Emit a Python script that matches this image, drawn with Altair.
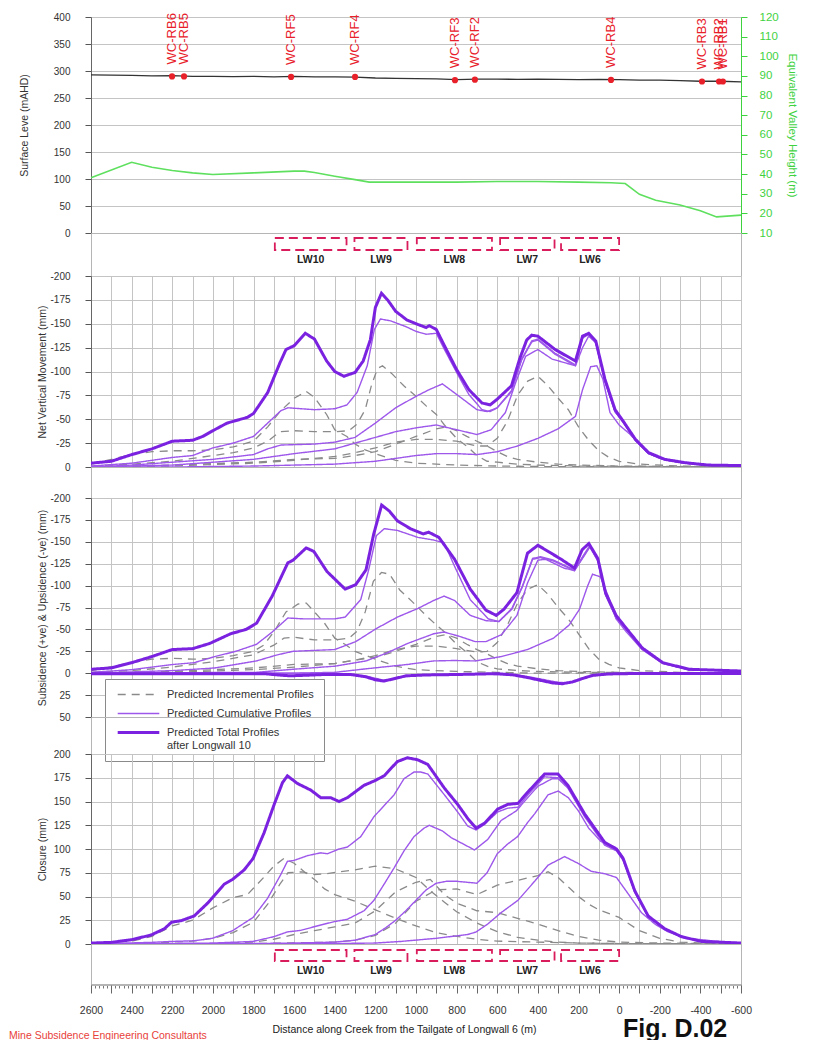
import altair as alt
import pandas as pd

FONT = "Liberation Sans"
W = 650
XDOM = [2600, -600]
GRID_X = list(range(-600, 2601, 100))
GRID = "#c4c4c4"
GREEN = "#3fd23f"
RED = "#e8202a"
CRIMSON = "#d91c5c"

SURFACE_X = [2600, 2500, 2400, 2300, 2200, 2100, 2000, 1900, 1800, 1700, 1600, 1500, 1400, 1300,
             1200, 1100, 1000, 900, 800, 700, 600, 500, 400, 300, 200, 100, 0, -100, -200, -300,
             -400, -500, -600]
SURFACE_LEVEL = [293, 292.5, 292, 291, 291.5, 290, 290, 289.5, 290, 289, 290, 289, 289, 288.5,
                 287, 286.5, 286, 285.5, 284, 285, 285, 284.5, 285, 284.5, 284, 284.5, 284, 283,
                 283, 282, 281, 281, 280]
VALLEY_X = [2600, 2400, 2300, 2200, 2100, 2000, 1800, 1600, 1550, 1500, 1400, 1300, 1230, 1000,
            800, 600, 400, 200, 40, -30, -100, -180, -300, -400, -480, -600]
VALLEY_H = [38.1, 46, 43.5, 41.8, 40.6, 39.8, 40.6, 41.5, 41.5, 40.8, 38.9, 37.2, 35.9, 35.9,
            35.9, 36.2, 36.2, 35.9, 35.6, 35.2, 29.7, 26.7, 24.3, 21.3, 18.2, 19.1]
STATION_NAMES = ["WC-RB6", "WC-RB5", "WC-RF5", "WC-RF4", "WC-RF3", "WC-RF2", "WC-RB4",
                 "WC-RB3", "WC-RB2", "WC-RB1"]
STATION_X = [2201, 2142, 1615, 1300, 808, 710, 40, -408, -492, -511]
STATION_LEVEL = [290, 290, 289, 289, 283, 284, 283.5, 280.5, 280.5, 280.5]

LW_NAMES = ["LW10", "LW9", "LW8", "LW7", "LW6"]
LW_START = [1695, 1303, 996, 586, 286]
LW_END = [1342, 1042, 626, 318, 0]

NVM_TOTAL = [(2600, -4), (2500, -6), (2400, -13), (2300, -19), (2200, -27), (2100, -28), (2050, -32),
             (2000, -38), (1930, -46), (1830, -52), (1800, -56), (1730, -78), (1670, -109), (1640, -123),
             (1600, -127), (1545, -140), (1500, -134), (1440, -111), (1400, -100), (1355, -95), (1300, -99),
             (1260, -111), (1225, -133), (1200, -167), (1170, -182), (1140, -175), (1100, -163),
             (1045, -154), (1000, -150), (950, -146), (935, -148), (900, -144), (860, -127), (800, -102),
             (740, -81), (675, -67), (635, -65), (600, -71), (530, -85), (490, -113), (455, -133),
             (430, -138), (400, -137), (315, -123), (215, -111), (180, -137), (150, -140), (115, -132),
             (70, -92), (20, -60), (-20, -48), (-80, -29), (-145, -15), (-225, -8), (-325, -4.5),
             (-440, -2), (-600, -1.5)]
NVM_C9 = [(2600, -1), (2400, -4), (2200, -10), (2100, -12), (2000, -20), (1900, -25), (1800, -32),
          (1730, -46), (1665, -59), (1630, -62), (1500, -60), (1400, -61), (1340, -65), (1290, -78),
          (1240, -106), (1205, -144), (1175, -155), (1125, -153), (1050, -147), (1000, -142), (950, -139),
          (900, -140), (860, -123), (800, -99), (740, -76), (675, -60), (635, -58), (600, -62), (530, -80),
          (480, -113), (430, -132), (400, -134), (315, -119), (215, -107), (180, -136), (150, -139),
          (115, -131), (70, -90), (20, -58), (-20, -47), (-80, -28), (-145, -14), (-225, -7.5),
          (-325, -4), (-440, -2), (-600, -1.5)]
NVM_C8 = [(2600, 0), (2400, -2), (2200, -5), (2000, -8), (1800, -13), (1730, -19), (1665, -23),
          (1500, -24), (1400, -26), (1300, -31), (1200, -46), (1100, -62), (1000, -74), (935, -81),
          (870, -87), (800, -76), (700, -60), (650, -58), (600, -62), (530, -79), (480, -112), (430, -131),
          (400, -133), (315, -118), (215, -106), (180, -135), (150, -139), (115, -131), (70, -90),
          (20, -58), (-20, -47), (-80, -28), (-145, -14), (-225, -7.5), (-325, -4), (-440, -2), (-600, -1.5)]
NVM_C7 = [(2600, 0), (2200, -2), (1800, -8), (1600, -14), (1400, -19), (1300, -25), (1200, -31),
          (1100, -37), (1000, -41), (900, -44), (800, -39), (700, -34), (630, -39), (560, -57),
          (510, -88), (460, -116), (400, -123), (330, -113), (215, -106), (180, -125), (150, -137),
          (115, -130), (70, -90), (20, -58), (-20, -47), (-80, -28), (-145, -14), (-225, -7.5),
          (-325, -4), (-440, -2), (-600, -1.5)]
NVM_C6 = [(2600, 0), (2200, 0), (1800, -1), (1600, -2), (1400, -3), (1200, -6), (1000, -12), (900, -14),
          (800, -14), (700, -13), (600, -16), (500, -22), (400, -30), (300, -40), (215, -53), (180, -81),
          (140, -105), (110, -106), (80, -92), (45, -57), (0, -44), (-50, -35), (-100, -24), (-150, -14),
          (-200, -9), (-300, -5), (-400, -2.5), (-600, -1.5)]
NVM_I10 = [(2600, -3), (2500, -8), (2400, -13), (2300, -16), (2200, -17), (2100, -17), (2000, -18),
           (1900, -21), (1800, -27), (1730, -42), (1670, -58), (1600, -72), (1540, -79), (1500, -73),
           (1440, -55), (1400, -39), (1340, -32), (1300, -24), (1250, -18), (1200, -14), (1100, -7),
           (1000, -4), (900, -3), (800, -2), (600, -1), (400, -0.5), (-600, 0)]
NVM_I9 = [(2600, -1), (2400, -3), (2200, -6), (2000, -12), (1900, -15), (1800, -20), (1730, -27),
          (1670, -37), (1600, -38), (1500, -37), (1400, -37), (1330, -38), (1290, -45), (1250, -60),
          (1220, -85), (1190, -103), (1165, -106), (1120, -98), (1060, -85), (1000, -74), (950, -64),
          (900, -55), (860, -44), (800, -30), (740, -20), (700, -12), (650, -6), (600, -5), (500, -3),
          (400, -2), (200, -1), (-600, 0)]
NVM_I8 = [(2600, 0), (2200, -2), (1800, -5), (1600, -8), (1400, -9), (1300, -12), (1200, -16),
          (1100, -24), (1000, -32), (900, -40), (850, -42), (800, -38), (750, -32), (700, -27), (650, -22),
          (600, -16), (550, -11), (500, -8), (400, -5), (300, -3), (200, -2), (0, -1), (-600, 0)]
NVM_I7 = [(2600, 0), (2200, -1), (1800, -4), (1600, -7), (1400, -11), (1300, -15), (1200, -20),
          (1100, -26), (1000, -29), (900, -29), (800, -27), (700, -22), (650, -22), (600, -30), (550, -48),
          (500, -75), (450, -90), (400, -95), (350, -85), (300, -72), (250, -60), (200, -42), (150, -28),
          (100, -17), (50, -10), (0, -6), (-100, -3), (-300, -1), (-600, 0)]

SUB_TOTAL = [(2600, -4.5), (2500, -6), (2400, -12), (2300, -19), (2200, -27), (2100, -28), (2015, -34),
             (1913, -45), (1836, -50), (1785, -57), (1708, -88), (1631, -126), (1605, -129), (1541, -143),
             (1503, -139), (1438, -116), (1349, -96), (1297, -101), (1246, -118), (1208, -159),
             (1169, -192), (1131, -185), (1092, -174), (1028, -165), (964, -159), (938, -161), (887, -155),
             (810, -130), (733, -96), (656, -72), (605, -66), (567, -73), (503, -92), (451, -137),
             (400, -146), (349, -139), (285, -130), (220, -120), (182, -141), (149, -148), (105, -131),
             (67, -92), (15, -66), (-36, -51), (-113, -29), (-215, -12), (-344, -4.5), (-600, -2.5)]
SUB_C9 = [(2600, -1), (2400, -4), (2195, -10), (2092, -12), (1990, -19), (1887, -25), (1785, -33),
          (1708, -47), (1631, -63), (1554, -62), (1400, -62), (1349, -64), (1272, -84), (1233, -118),
          (1195, -157), (1156, -165), (1092, -163), (990, -155), (913, -152), (862, -149), (810, -122),
          (733, -84), (644, -62), (592, -59), (528, -74), (477, -99), (426, -131), (387, -133),
          (323, -129), (220, -118), (169, -137), (144, -146), (105, -130), (67, -90), (15, -64),
          (-36, -50), (-113, -28), (-215, -11.5), (-344, -4), (-600, -2.5)]
SUB_C8 = [(2600, 0), (2195, -3), (1990, -6), (1785, -14), (1682, -21), (1605, -25), (1400, -27),
          (1297, -36), (1195, -51), (1092, -64), (990, -74), (913, -83), (862, -88), (810, -83),
          (733, -66), (656, -60), (592, -59), (528, -73), (477, -98), (426, -130), (387, -132),
          (323, -128), (220, -117), (169, -136), (144, -145), (105, -129), (67, -90), (15, -64),
          (-36, -50), (-113, -28), (-215, -11.5), (-344, -4), (-600, -2.5)]
SUB_C7 = [(2600, 0), (1785, -1), (1605, -4.5), (1400, -8), (1246, -14), (1144, -23), (1041, -34),
          (913, -45), (862, -47), (785, -42), (708, -36), (656, -36), (579, -44), (503, -66), (451, -103),
          (400, -129), (362, -130), (272, -120), (220, -117), (169, -135), (144, -144), (105, -128),
          (67, -89), (15, -63), (-36, -50), (-113, -28), (-215, -11.5), (-344, -4), (-600, -2.5)]
SUB_C6 = [(2600, 0), (1605, 0), (1400, -1), (1246, -5), (1041, -10), (913, -14), (810, -14.5),
          (708, -14), (579, -19), (451, -27), (323, -40), (246, -55), (195, -73), (156, -99), (131, -113),
          (92, -110), (54, -88), (15, -62), (-36, -47), (-113, -27), (-215, -11), (-344, -4), (-600, -2.5)]
SUB_I10 = [(2600, -3), (2400, -12), (2300, -16), (2200, -17), (2100, -16), (2000, -17), (1900, -20),
           (1800, -25), (1750, -32), (1700, -47), (1640, -70), (1580, -79), (1540, -80), (1500, -70),
           (1450, -57), (1400, -40), (1350, -33), (1300, -25), (1200, -16), (1100, -8), (1000, -4),
           (800, -2), (600, -1), (400, 0), (-600, 0)]
SUB_I9 = [(2600, -1), (2400, -3), (2200, -7), (2000, -13), (1800, -21), (1700, -32), (1650, -40),
          (1600, -41), (1500, -38), (1400, -38), (1330, -40), (1290, -48), (1250, -70), (1210, -105),
          (1170, -115), (1130, -113), (1080, -95), (1020, -82), (960, -68), (900, -55), (850, -45),
          (800, -33), (740, -22), (700, -13), (650, -8), (600, -5), (500, -3), (400, -2), (200, -1), (-600, 0)]
SUB_I8 = [(2600, 0), (2200, -2), (1800, -6), (1600, -10), (1400, -11), (1300, -15), (1200, -18),
          (1100, -25), (1000, -33), (900, -42), (850, -44), (800, -40), (750, -33), (700, -27), (650, -22),
          (600, -16), (550, -11), (500, -8), (400, -5), (300, -3), (200, -2), (0, -1), (-600, 0)]
SUB_I7 = [(2600, 0), (2200, -1), (1800, -4), (1600, -7), (1400, -11), (1300, -15), (1200, -20),
          (1100, -27), (1000, -31), (900, -31), (800, -28), (700, -24), (650, -25), (600, -35), (550, -55),
          (500, -80), (450, -96), (400, -101), (350, -90), (300, -75), (250, -62), (200, -45), (150, -28),
          (100, -16), (50, -10), (0, -6), (-100, -3), (-300, -1), (-600, 0)]
SUB_UP_TOTAL = [(2600, 0.5), (1750, 0.5), (1680, 2), (1620, 3), (1560, 2.5), (1450, 1.5), (1320, 1.5),
                (1250, 4), (1200, 7.5), (1160, 9), (1120, 7), (1050, 3), (950, 2), (800, 1.5), (700, 1),
                (600, 0.5), (520, 2), (450, 5), (380, 8.5), (330, 11), (280, 12), (230, 10), (180, 6),
                (130, 2.5), (60, 1), (0, 0.5), (-600, 0.3)]
SUB_UP_CUM = [(2600, 0), (1400, 0), (1250, 3), (1160, 8), (1100, 6), (1000, 2), (700, 1), (500, 2),
              (400, 6), (300, 10.5), (250, 11), (200, 8), (130, 2.5), (0, 0.5), (-600, 0.3)]

CLO_TOTAL = [(2600, 1), (2502, 1.7), (2403, 4.4), (2305, 9.4), (2239, 16), (2203, 23), (2157, 24.5),
             (2092, 29.5), (2026, 43), (1944, 63), (1903, 68), (1846, 78), (1802, 90), (1748, 117),
             (1698, 147), (1657, 170), (1633, 177), (1584, 169), (1518, 162), (1469, 154), (1420, 154),
             (1379, 150), (1338, 154), (1256, 167), (1207, 171.5), (1157, 177), (1092, 192), (1043, 196),
             (993, 194), (942, 189), (860, 164), (795, 147), (745, 132), (704, 122), (663, 127), (598, 142),
             (548, 147), (498, 148), (449, 160), (367, 179), (301, 179), (252, 167), (170, 137), (71, 107),
             (13, 100), (-20, 90), (-77, 56), (-143, 29.5), (-225, 16), (-307, 7.7), (-406, 2.7), (-600, 1)]
CLO_C9 = [(2600, 0), (2305, 1.7), (2203, 2.7), (2092, 3.4), (2002, 6), (1903, 14), (1802, 28),
          (1731, 48), (1666, 73), (1633, 87), (1600, 88), (1534, 93), (1469, 96), (1436, 95), (1379, 100),
          (1338, 102), (1272, 113), (1207, 134), (1108, 157), (1059, 174), (1010, 181), (977, 181),
          (942, 179), (860, 157), (795, 139), (745, 124), (704, 120), (663, 126), (598, 139), (548, 143),
          (498, 144), (449, 157), (367, 176), (301, 175), (252, 165), (170, 135), (71, 105), (13, 99),
          (-20, 89), (-77, 55), (-143, 29), (-225, 15.5), (-307, 7.5), (-406, 2.6), (-600, 1)]
CLO_C8 = [(2600, 0), (2000, 1), (1802, 2.7), (1700, 7.7), (1633, 12.7), (1567, 14.4), (1469, 20),
          (1403, 23.5), (1338, 26), (1256, 35), (1207, 46), (1157, 63), (1108, 80), (1059, 98),
          (1010, 113), (960, 122), (935, 125), (870, 119), (827, 112), (712, 99), (647, 110), (581, 130),
          (507, 140), (450, 154), (400, 166), (330, 174), (300, 174), (252, 164), (170, 134), (71, 104),
          (13, 98), (-20, 88), (-77, 55), (-143, 29), (-225, 15.5), (-307, 7.5), (-406, 2.6), (-600, 1)]
CLO_C7 = [(2600, 0), (1800, 0.5), (1600, 1), (1400, 2), (1300, 4), (1250, 7), (1200, 10), (1150, 17),
          (1100, 25), (1050, 35), (1000, 46), (950, 57), (900, 64), (850, 66), (800, 66), (750, 65),
          (700, 64), (650, 75), (600, 95), (550, 105), (500, 113), (450, 128), (416, 137), (350, 157),
          (300, 161), (250, 154), (200, 140), (150, 122), (90, 108), (20, 102), (-15, 93), (-77, 55),
          (-143, 29), (-225, 15.5), (-307, 7.5), (-406, 2.6), (-600, 1)]
CLO_C6 = [(2600, 0), (1400, 0.5), (1200, 1), (1074, 2.7), (900, 6), (745, 10), (704, 12.7), (647, 21),
          (581, 33), (498, 46), (416, 66), (350, 83), (268, 92), (203, 85), (137, 76.5), (71, 74),
          (13, 70), (-44, 53), (-110, 33), (-176, 21), (-242, 12.7), (-340, 6), (-488, 2.7), (-600, 1)]
CLO_I10 = [(2600, 0.5), (2400, 3), (2300, 8), (2200, 19), (2100, 25), (2000, 38), (1900, 49), (1830, 52),
           (1750, 70), (1700, 82), (1650, 90), (1600, 85), (1550, 76), (1500, 68), (1450, 58), (1400, 52),
           (1300, 45), (1200, 36), (1100, 27), (1000, 19), (900, 12), (800, 8), (700, 5), (600, 3),
           (400, 2), (200, 1), (0, 0.5), (-600, 0)]
CLO_I9 = [(2600, 0), (2300, 1), (2100, 3), (2000, 6), (1900, 12), (1800, 23), (1730, 42), (1670, 63),
          (1630, 75), (1560, 76), (1500, 73), (1440, 74), (1380, 76), (1300, 78), (1200, 82), (1100, 79),
          (1000, 70), (930, 56), (860, 44), (800, 34), (700, 22), (600, 13), (500, 7), (400, 4), (300, 2),
          (200, 1), (0, 0.5), (-600, 0)]
CLO_I8 = [(2600, 0), (2000, 0.5), (1800, 2), (1700, 5), (1600, 10), (1500, 14), (1400, 18), (1300, 22),
          (1200, 35), (1100, 55), (1000, 65), (930, 68), (860, 52), (800, 43), (700, 35), (600, 33),
          (500, 27), (400, 21), (300, 14), (200, 8), (100, 4), (0, 2), (-200, 1), (-600, 0)]
CLO_I7 = [(2600, 0), (1800, 0.5), (1400, 2), (1300, 4), (1200, 9), (1100, 22), (1000, 45), (900, 57),
          (800, 58), (700, 52), (600, 62), (500, 67), (400, 72), (350, 76), (300, 70), (250, 60),
          (200, 50), (150, 42), (100, 36), (0, 28), (-100, 14), (-200, 6), (-300, 2), (-400, 1), (-600, 0)]

KINDS = ["Predicted Incremental Profiles", "Predicted Cumulative Profiles",
         "Predicted Total Profiles|after Longwall 10"]
KIND_COLORS = ["#8a8a8a", "#9d57ea", "#7a22e0"]
KIND_DASH = [[8, 6], [1, 0], [1, 0]]
KIND_WIDTH = [1.3, 1.4, 3.0]

FOOTER = "Mine Subsidence Engineering Consultants"
FIG_LABEL = "Fig. D.02"
X_TITLE = "Distance along Creek from the Tailgate of Longwall 6 (m)"


def xscale():
    return alt.Scale(domain=XDOM, nice=False, zero=False)


def xgrid(field="x"):
    return alt.X(f"{field}:Q", scale=xscale(),
                 axis=alt.Axis(values=GRID_X, grid=True, gridColor=GRID, labels=False, ticks=False,
                               domain=False, title=None))


def yaxis(values, title, title_x):
    return alt.Axis(values=values, grid=True, gridColor=GRID, title=title, titleX=title_x,
                    tickSize=6, labelPadding=15, labelFontSize=10, labelColor="#333",
                    labelOverlap=False, labelExpr="toString(datum.value)", domainColor="#666",
                    tickColor="#555", titleFontSize=10.5, titleFontWeight="normal", titleColor="#333")


def curves_df(items):
    frames = []
    for name, kind, pairs in items:
        d = pd.DataFrame(pairs, columns=["x", "y"])
        d["curve"] = name
        d["kind"] = kind
        frames.append(d)
    return pd.concat(frames, ignore_index=True)


def profile_panel(items, ydom, yvals, title, title_x, height, legend=None):
    df = curves_df(items)
    enc = dict(
        x=xgrid(),
        y=alt.Y("y:Q", scale=alt.Scale(domain=ydom, nice=False, zero=False),
                axis=yaxis(yvals, title, title_x)),
        detail="curve:N",
        color=alt.Color("kind:N", scale=alt.Scale(domain=KINDS, range=KIND_COLORS), legend=legend),
        strokeDash=alt.StrokeDash("kind:N", scale=alt.Scale(domain=KINDS, range=KIND_DASH), legend=legend),
        strokeWidth=alt.StrokeWidth("kind:N", scale=alt.Scale(type="ordinal", domain=KINDS, range=KIND_WIDTH),
                                    legend=legend),
    )
    base = alt.Chart(df).encode(**enc)
    layers = [base.transform_filter(alt.datum.kind == k).mark_line(clip=True) for k in KINDS]
    return alt.layer(*layers).properties(width=W, height=height)


INC, CUM, TOT = KINDS

# ---- panel 1: surface level (left axis) and valley height (right axis)
surf_df = pd.DataFrame({"x": SURFACE_X, "level": SURFACE_LEVEL})
valley_df = pd.DataFrame({"x": VALLEY_X, "h": VALLEY_H})
stat_df = pd.DataFrame({"name": STATION_NAMES, "x": STATION_X, "level": STATION_LEVEL})
LVL = alt.Scale(domain=[0, 400], nice=False, zero=False)
VH = alt.Scale(domain=[10, 120], nice=False, zero=False)

surface = alt.Chart(surf_df).mark_line(color="#333", strokeWidth=1.3).encode(
    x=xgrid(),
    y=alt.Y("level:Q", scale=LVL, axis=yaxis(list(range(0, 401, 50)), "Surface Leve (mAHD)", -62)))
dots = alt.Chart(stat_df).mark_circle(color=RED, size=38, opacity=1).encode(
    x=alt.X("x:Q", scale=xscale(), axis=None), y=alt.Y("level:Q", scale=LVL, axis=None))
names = alt.Chart(stat_df).mark_text(angle=270, align="left", baseline="middle", dx=12, color=RED,
                                     fontSize=13, font=FONT).encode(
    x=alt.X("x:Q", scale=xscale(), axis=None), y=alt.Y("level:Q", scale=LVL, axis=None), text="name:N")
valley = alt.Chart(valley_df).mark_line(color="#5ee05e", strokeWidth=1.6).encode(
    x=alt.X("x:Q", scale=xscale(), axis=None),
    y=alt.Y("h:Q", scale=VH,
            axis=alt.Axis(orient="right", values=list(range(10, 121, 10)), grid=False,
                          title="Equivalent Valley Height (m)", labelColor=GREEN, titleColor=GREEN,
                          tickColor=GREEN, domainColor=GREEN, tickSize=6, labelPadding=12,
                          labelOverlap=False, labelFontSize=11.5, titleFontSize=11.5,
                          titleFontWeight="normal", titlePadding=8)))
panel1 = alt.layer(surface, dots, names, valley).resolve_scale(y="independent").properties(
    width=W, height=216)

# ---- longwall strips
lw_df = pd.DataFrame({"name": LW_NAMES, "start": LW_START, "end": LW_END})


def lw_layers(y1, y2, ylab, axis=None):
    boxes = alt.Chart(lw_df).mark_rect(fillOpacity=0, stroke=CRIMSON, strokeWidth=1.8,
                                       strokeDash=[9, 5], y=y1, y2=y2).encode(
        x=alt.X("start:Q", scale=xscale(), axis=axis), x2="end:Q")
    labs = alt.Chart(lw_df).transform_calculate(mid="(datum.start + datum.end) / 2").mark_text(
        fontWeight="bold", fontSize=10.5, color="#222", font=FONT, y=ylab).encode(
        x=alt.X("mid:Q", scale=xscale(), axis=axis), text="name:N")
    return boxes, labs


b1, l1 = lw_layers(5, 17, 27)
strip1 = alt.layer(b1, l1).properties(width=W, height=43)

minor_axis = alt.Axis(values=list(range(-600, 2601, 20)), tickSize=4, labels=False, grid=False,
                      domain=True, domainColor="#666", tickColor="#777", title=None, orient="bottom")
b2, l2 = lw_layers(6, 17, 27, axis=minor_axis)
strip2 = alt.layer(b2, l2).properties(width=W, height=40)

major_axis = alt.Axis(values=GRID_X, tickSize=8, domain=False, grid=False, tickColor="#666",
                      orient="bottom",
                      labelExpr="datum.value % 200 == 0 ? toString(datum.value) : ''",
                      labelOverlap=False, labelFlush=False, labelPadding=12, labelFontSize=10.5,
                      labelColor="#333", title=X_TITLE, titlePadding=9, titleFontSize=10.5,
                      titleFontWeight="normal", titleColor="#222", titleX=313)
ruler_ticks = alt.Chart(lw_df).mark_point(opacity=0).encode(
    x=alt.X("start:Q", scale=xscale(), axis=major_axis))
footer = alt.Chart(pd.DataFrame({"t": [FOOTER]})).mark_text(
    align="left", baseline="alphabetic", color="#e8413a", fontSize=10.5, font=FONT, x=-82, y=55).encode(
    text="t:N")
fig = alt.Chart(pd.DataFrame({"t": [FIG_LABEL]})).mark_text(
    align="left", baseline="alphabetic", color="#111", fontSize=25, fontWeight="bold", font=FONT,
    x=532, y=53).encode(text="t:N")
ruler = alt.layer(ruler_ticks, footer, fig).properties(width=W, height=1)

# ---- profile panels
panel2 = profile_panel(
    [("I10", INC, NVM_I10), ("I9", INC, NVM_I9), ("I8", INC, NVM_I8), ("I7", INC, NVM_I7),
     ("C6", CUM, NVM_C6), ("C7", CUM, NVM_C7), ("C8", CUM, NVM_C8), ("C9", CUM, NVM_C9),
     ("T", TOT, NVM_TOTAL)],
    [0, -200], list(range(-200, 1, 25)), "Net Vertical Movement (mm)", -44, 191)

legend = alt.Legend(title=None, orient="none", legendX=14, legendY=181, fillColor="white",
                    strokeColor="#8a8a8a", padding=10, symbolType="M-5.2,0L5.2,0", symbolSize=64,
                    symbolOffset=18, labelFont=FONT, labelFontSize=11, labelColor="#333",
                    labelLimit=300, labelOffset=23, rowPadding=7, labelExpr="split(datum.label, '|')")
panel3 = profile_panel(
    [("I10", INC, SUB_I10), ("I9", INC, SUB_I9), ("I8", INC, SUB_I8), ("I7", INC, SUB_I7),
     ("C6", CUM, SUB_C6), ("C7", CUM, SUB_C7), ("C8", CUM, SUB_C8), ("C9", CUM, SUB_C9),
     ("UC", CUM, SUB_UP_CUM), ("T", TOT, SUB_TOTAL), ("UT", TOT, SUB_UP_TOTAL)],
    [50, -200], list(range(-200, 51, 25)), "Subsidence (+ve) & Upsidence (-ve) (mm)", -44, 219,
    legend=legend)

panel4 = profile_panel(
    [("I10", INC, CLO_I10), ("I9", INC, CLO_I9), ("I8", INC, CLO_I8), ("I7", INC, CLO_I7),
     ("C6", CUM, CLO_C6), ("C7", CUM, CLO_C7), ("C8", CUM, CLO_C8), ("C9", CUM, CLO_C9),
     ("T", TOT, CLO_TOTAL)],
    [0, 200], list(range(0, 201, 25)), "Closure (mm)", -44, 190)


def spacer(h):
    return alt.Chart(pd.DataFrame({"v": [0]})).mark_point(opacity=0).encode(
        x=alt.X("v:Q", axis=None), y=alt.Y("v:Q", axis=None)).properties(width=W, height=h)


chart = alt.vconcat(
    panel1, strip1, panel2, spacer(31), panel3, spacer(37), panel4, strip2, ruler,
    spacing=0, bounds="flush"
).resolve_scale(
    color="independent", strokeDash="independent", strokeWidth="independent"
).properties(
    padding={"left": 0, "top": 2, "right": 4, "bottom": 0}
).configure(font=FONT).configure_view(stroke="#b5b5b5").configure_axis(
    labelFont=FONT, titleFont=FONT)

chart.save("out.html", embed_options={"renderer": "svg", "actions": False})
